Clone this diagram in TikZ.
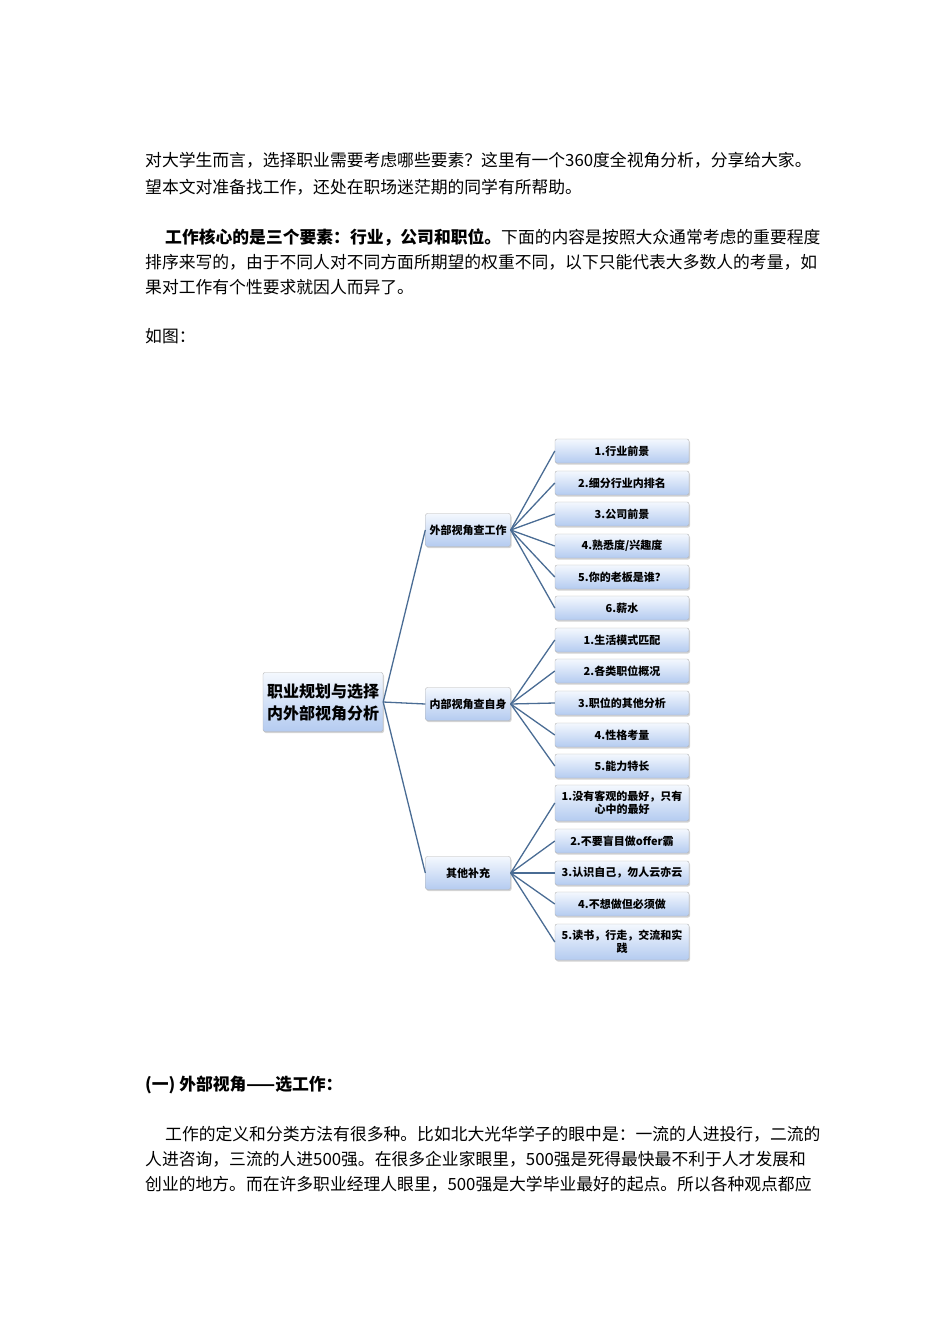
\documentclass[tikz,border=0pt]{standalone}
\usepackage{fontspec}
\usetikzlibrary{shadows}
\newfontfamily\cjk{Noto Sans CJK SC}
\newcommand\cjkb{\cjk\bfseries}
\definecolor{boxbot}{HTML}{B4CBF0}
\definecolor{boxtop}{HTML}{F4F8FE}
\definecolor{lncol}{HTML}{4A6C94}
\begin{document}
\begin{tikzpicture}[x=1pt,y=-1pt,
  txt/.style={anchor=west,inner sep=0pt,font=\fontsize{16.8}{20}\cjk},
  box/.style={draw=gray!60,rounded corners=2pt,top color=boxtop,bottom color=boxbot,
     drop shadow={opacity=0.35,shadow xshift=1pt,shadow yshift=-1.5pt},inner sep=1pt,align=center,
     font=\fontsize{11}{13}\cjkb},
  leaf/.style={box,minimum width=134pt,minimum height=24pt,text width=130pt},
  mid/.style={box,minimum width=85pt,minimum height=33pt},
  ln/.style={draw=lncol,line width=1.3pt}]
\useasboundingbox (0,0) rectangle (950,1344);
\node[txt] (t1) at (145,160) {对大学生而言，选择职业需要考虑哪些要素？这里有一个360度全视角分析，分享给大家。};
\node[txt] (t2) at (145,187) {望本文对准备找工作，还处在职场迷茫期的同学有所帮助。};
\node[txt] (t3) at (165,237) {{\cjkb 工作核心的是三个要素：行业，公司和职位。}下面的内容是按照大众通常考虑的重要程度};
\node[txt] (t4) at (145,262) {排序来写的，由于不同人对不同方面所期望的权重不同，以下只能代表大多数人的考量，如};
\node[txt] (t5) at (145,287) {果对工作有个性要求就因人而异了。};
\node[txt] (t6) at (145,336) {如图：};
\node[txt,font=\fontsize{16.8}{20}\cjkb] (h1) at (145,1085) {(一) 外部视角——选工作：};
\node[txt] (b1) at (165,1134) {工作的定义和分类方法有很多种。比如北大光华学子的眼中是：一流的人进投行，二流的};
\node[txt] (b2) at (145,1159) {人进咨询，三流的人进500强。在很多企业家眼里，500强是死得最快最不利于人才发展和};
\node[txt] (b3) at (145,1184) {创业的地方。而在许多职业经理人眼里，500强是大学毕业最好的起点。所以各种观点都应};

\node[box,minimum width=120pt,minimum height=59pt,font=\fontsize{16}{22}\cjkb] (root) at (323,702) {职业规划与选择\\内外部视角分析};
\node[mid] (m1) at (468,530) {外部视角查工作};
\node[mid] (m2) at (468,704) {内部视角查自身};
\node[mid] (m3) at (468,873) {其他补充};
\foreach \n/\y/\t in {a1/451/{1.行业前景},a2/483/{2.细分行业内排名},a3/514/{3.公司前景},a4/546/{4.熟悉度/兴趣度},a5/577/{5.你的老板是谁？},a6/608/{6.薪水}}
  {\node[leaf] (\n) at (622,\y) {\t}; \draw[ln] (m1.east) -- (\n.west);}
\foreach \n/\y/\t in {b1/640/{1.生活模式匹配},b2/671/{2.各类职位概况},b3/703/{3.职位的其他分析},b4/735/{4.性格考量},b5/766/{5.能力特长}}
  {\node[leaf] (\n) at (622,\y) {\t}; \draw[ln] (m2.east) -- (\n.west);}
\node[leaf,minimum height=36pt] (c1) at (622,803) {1.没有客观的最好，只有\\心中的最好};
\node[leaf] (c2) at (622,841) {2.不要盲目做offer霸};
\node[leaf] (c3) at (622,873) {3.认识自己，勿人云亦云};
\node[leaf] (c4) at (622,904) {4.不想做但必须做};
\node[leaf,minimum height=36pt] (c5) at (622,942) {5.读书，行走，交流和实\\践};
\foreach \n in {c1,c2,c3,c4,c5} \draw[ln] (m3.east) -- (\n.west);
\foreach \n in {m1,m2,m3} \draw[ln] (root.east) -- (\n.west);
\end{tikzpicture}
\end{document}
